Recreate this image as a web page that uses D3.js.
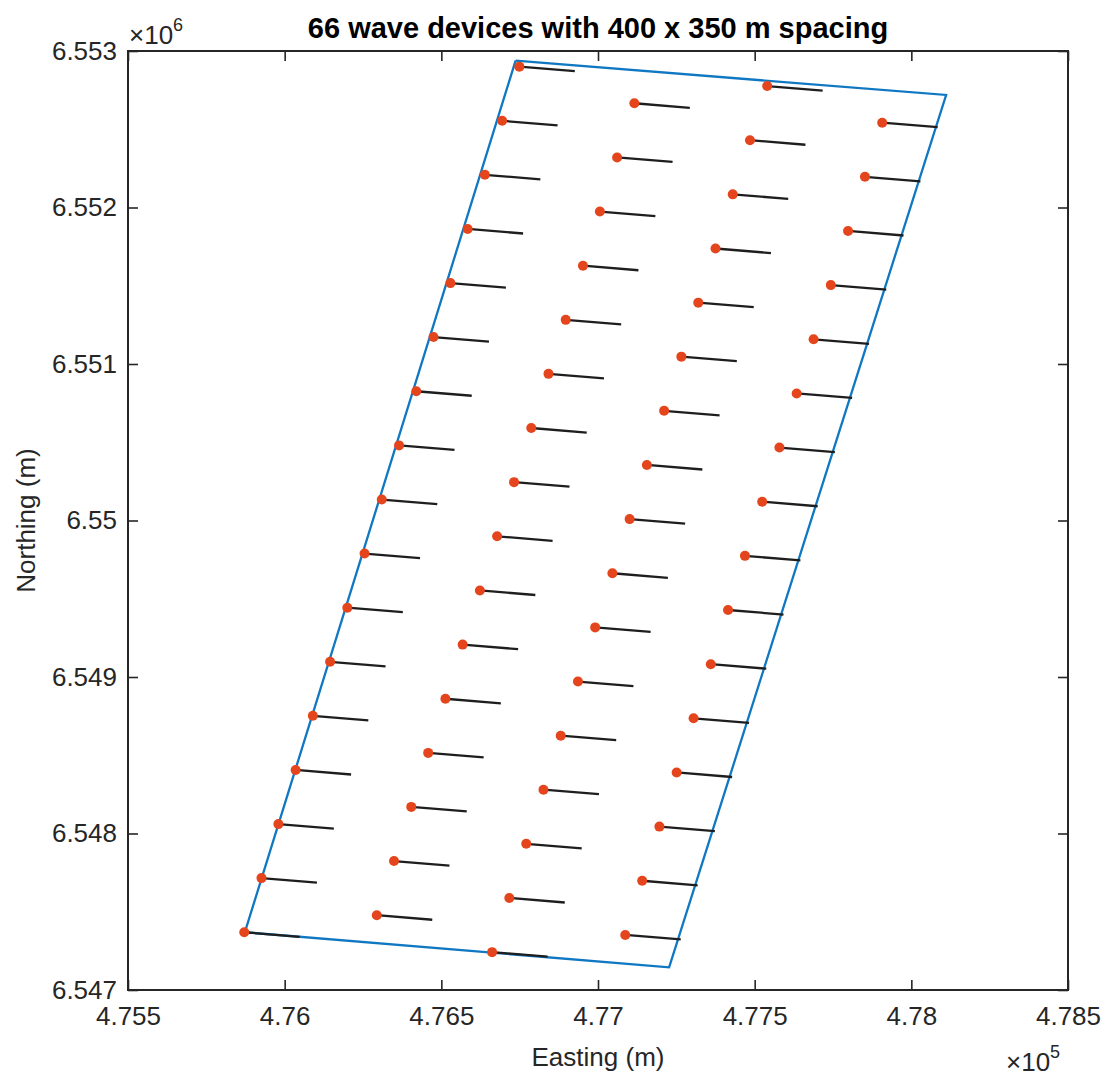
<!DOCTYPE html>
<html>
<head>
<meta charset="utf-8">
<script src="https://cdn.jsdelivr.net/npm/d3@7/dist/d3.min.js"></script>
<style>
  html, body { margin: 0; padding: 0; background: #fff; }
  svg { display: block; }
  text { font-family: "Liberation Sans", Arial, Helvetica, sans-serif; fill: #262626; }
</style>
</head>
<body>
<svg id="chart" width="1110" height="1079"></svg>
<script>
// ---- Data (metres) ----
const titleText = "66 wave devices with 400 x 350 m spacing";
const xLabel = "Easting (m)";
const yLabel = "Northing (m)";

const xTicks = [475500, 476000, 476500, 477000, 477500, 478000, 478500];
const yTicks = [6547000, 6548000, 6549000, 6550000, 6551000, 6552000, 6553000];

// Device positions, by column of the staggered layout
const eastingA  = [476749, 476694, 476639, 476584, 476529, 476475, 476420, 476365, 476310, 476255, 476200, 476145, 476090, 476035, 475980, 475926, 475871];
const northingA = [6552900, 6552554, 6552209, 6551863, 6551517, 6551172, 6550826, 6550480, 6550134, 6549789, 6549443, 6549097, 6548752, 6548406, 6548060, 6547715, 6547369];
const eastingB  = [477116, 477061, 477006, 476952, 476897, 476842, 476787, 476732, 476678, 476623, 476568, 476513, 476458, 476404, 476349, 476294];
const northingB = [6552666, 6552320, 6551974, 6551628, 6551282, 6550937, 6550591, 6550245, 6549899, 6549553, 6549207, 6548861, 6548515, 6548170, 6547824, 6547478];
const eastingC  = [477540, 477485, 477430, 477375, 477320, 477266, 477211, 477156, 477101, 477046, 476991, 476936, 476881, 476826, 476771, 476717, 476662];
const northingC = [6552776, 6552430, 6552084, 6551738, 6551392, 6551047, 6550701, 6550355, 6550009, 6549663, 6549317, 6548971, 6548625, 6548280, 6547934, 6547588, 6547242];
const eastingD  = [477907, 477852, 477798, 477743, 477688, 477634, 477579, 477524, 477469, 477415, 477360, 477305, 477251, 477196, 477141, 477087];
const northingD = [6552542, 6552196, 6551850, 6551504, 6551158, 6550812, 6550466, 6550120, 6549774, 6549428, 6549082, 6548736, 6548390, 6548044, 6547698, 6547352];

// Orientation segment of each device (offset in metres)
const segDE = 177;
const segDN = -29;

// Lease area boundary corners
const boundaryE = [476737, 478111, 477227, 475873, 476737];
const boundaryN = [6552938, 6552719, 6547145, 6547369, 6552938];

// ---- Layout ----
const L = 128, R = 1068, T = 51, B = 990;
const svg = d3.select("#chart");
const x = d3.scaleLinear().domain([475500, 478500]).range([L, R]);
const y = d3.scaleLinear().domain([6547000, 6553000]).range([B, T]);

const devices = [];
[[eastingA, northingA], [eastingB, northingB], [eastingC, northingC], [eastingD, northingD]].forEach(([es, ns]) => {
  es.forEach((e, i) => devices.push({ e: e, n: ns[i] }));
});

const FS = 26;
const axisColor = "#262626";

// Boundary polygon
const boundary = boundaryE.map((e, i) => [e, boundaryN[i]]);
svg.append("path")
  .attr("d", d3.line().x(d => x(d[0])).y(d => y(d[1]))(boundary))
  .attr("fill", "none")
  .attr("stroke", "#1078c2")
  .attr("stroke-width", 2.3)
  .attr("stroke-linejoin", "miter");

// Orientation segments
svg.append("g").selectAll("line").data(devices).join("line")
  .attr("x1", d => x(d.e)).attr("y1", d => y(d.n))
  .attr("x2", d => x(d.e + segDE)).attr("y2", d => y(d.n + segDN))
  .attr("stroke", "#1e1e1e")
  .attr("stroke-width", 2.3);

// Device markers
svg.append("g").selectAll("circle").data(devices).join("circle")
  .attr("cx", d => x(d.e)).attr("cy", d => y(d.n))
  .attr("r", 5)
  .attr("fill", "#e5451d");

// Axes
const fmtX = v => String(+(v / 1e5).toFixed(4));
const fmtY = v => String(+(v / 1e6).toFixed(4));

function styleAxis(g) {
  g.select(".domain").remove();
  g.selectAll(".tick line").attr("stroke", axisColor).attr("stroke-width", 1.6);
  g.selectAll(".tick text").attr("font-size", FS).attr("fill", axisColor)
    .attr("font-family", '"Liberation Sans", Arial, sans-serif');
}

svg.append("g").attr("transform", `translate(0,${B})`)
  .call(d3.axisBottom(x).tickValues(xTicks).tickFormat(fmtX).tickSizeInner(-10).tickSizeOuter(0).tickPadding(17))
  .call(styleAxis);
svg.append("g").attr("transform", `translate(0,${T})`)
  .call(d3.axisTop(x).tickValues(xTicks).tickFormat("").tickSizeInner(-10).tickSizeOuter(0))
  .call(styleAxis);
svg.append("g").attr("transform", `translate(${L},0)`)
  .call(d3.axisLeft(y).tickValues(yTicks).tickFormat(fmtY).tickSizeInner(-10).tickSizeOuter(0).tickPadding(11))
  .call(styleAxis);
svg.append("g").attr("transform", `translate(${R},0)`)
  .call(d3.axisRight(y).tickValues(yTicks).tickFormat("").tickSizeInner(-10).tickSizeOuter(0))
  .call(styleAxis);

// Box
svg.append("rect")
  .attr("x", L).attr("y", T).attr("width", R - L).attr("height", B - T)
  .attr("fill", "none").attr("stroke", axisColor).attr("stroke-width", 2);

// Exponent labels
const expY = svg.append("text").attr("x", 129).attr("y", 44).attr("font-size", 26);
expY.append("tspan").text("\u00d710");
expY.append("tspan").attr("font-size", 18).attr("dy", -13).text("6");

const expX = svg.append("text").attr("x", 1006).attr("y", 1071).attr("font-size", 26);
expX.append("tspan").text("\u00d710");
expX.append("tspan").attr("font-size", 18).attr("dy", -13).text("5");

// Title
svg.append("text")
  .attr("x", (L + R) / 2).attr("y", 38)
  .attr("text-anchor", "middle")
  .attr("font-size", 29).attr("font-weight", "bold")
  .style("fill", "#000")
  .text(titleText);

// Axis labels
svg.append("text")
  .attr("x", (L + R) / 2).attr("y", 1066)
  .attr("text-anchor", "middle")
  .attr("font-size", FS)
  .text(xLabel);

svg.append("text")
  .attr("transform", `translate(35,${(T + B) / 2}) rotate(-90)`)
  .attr("text-anchor", "middle")
  .attr("font-size", FS)
  .text(yLabel);
</script>
</body>
</html>
